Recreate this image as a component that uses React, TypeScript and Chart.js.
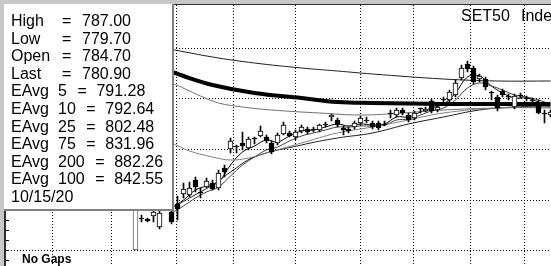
import React, { useEffect, useRef } from "react";
import { Chart, registerables } from "chart.js";
Chart.register(...registerables);

// ---- bar index (trading-day position) ----
const barIdx = [
  22, 23, 24, 25, 26, 28, 29, 30, 31, 32,
  33, 34, 35, 36, 37, 38, 39, 40, 41, 42,
  43, 44, 45, 46, 47, 48, 49, 50, 51, 52,
  53, 54, 55, 56, 57, 58, 59, 60, 61, 62,
  63, 64, 65, 66, 67, 68, 69, 70, 71, 72,
  73, 74, 75, 76, 77, 78, 79, 80, 81, 82,
  83, 84, 85, 86, 87, 88, 89, 90, 91, 92,
];
const opens = [
  700, 731.7, 730.7, 733.7, 722.8, 737.6, 745.5, 755.4, 754.5, 769.3,
  757.9, 762.4, 766.3, 761.4, 781.2, 800, 802.5, 805.9, 801, 810.9,
  812.9, 811.9, 805.9, 805.9, 814.8, 815.8, 811.9, 817.8, 819.8, 819.8,
  818.8, 824.7, 831.7, 828.7, 820.8, 819.8, 821.8, 825.7, 828.7, 825.7,
  825.7, 824.7, 835.6, 833.65, 838.6, 833.65, 830.7, 840.6, 837.6, 847.5,
  838.6, 849.5, 848.5, 853.45, 870.3, 884.1, 880.2, 869.3, 869.3, 856.4,
  851.5, 857.4, 852.5, 841.6, 853.45, 850.5, 848.5, 846.5, 835.6, 833.65,
];
const highs = [
  741.6, 734.7, 731.7, 739.6, 738.6, 739.6, 753.5, 766.3, 767.3, 772.3,
  761.4, 771.3, 769.3, 779.2, 784.2, 810.9, 804, 816.8, 811.9, 811.4,
  822.8, 813.9, 807.9, 815.8, 826.7, 817.8, 818.8, 823.8, 821.8, 821.8,
  824.7, 826.7, 834.6, 830.7, 822.8, 821.8, 827.7, 832.7, 831.7, 827.7,
  827.7, 827.7, 838.6, 840.6, 840.6, 835.6, 837.6, 840.6, 841.6, 849.5,
  843.6, 851.5, 858.4, 868.3, 883.2, 887.1, 882.2, 874.2, 871.3, 857.4,
  853.45, 859.4, 854.4, 854.4, 855.4, 852.5, 850.5, 848.5, 838.6, 838.6,
];
const lows = [
  700, 727.7, 727.7, 727.7, 720.8, 725.7, 729.7, 751.5, 752.5, 757.4,
  751.5, 761.4, 759.4, 759.4, 772.3, 796, 796, 799, 799, 805,
  811.9, 805.9, 795, 804, 813.9, 811.9, 809, 815.8, 814.8, 816.8,
  816.8, 821.8, 827.7, 821.8, 813.9, 815.8, 819.8, 823.75, 825.7, 819.8,
  818.8, 822.8, 830.7, 831.7, 833.65, 826.7, 828.7, 835.6, 836.6, 835.6,
  836.6, 843.55, 846.5, 851.5, 868.3, 876.2, 864.35, 866.3, 858.4, 848.5,
  837.6, 851.5, 848.5, 839.6, 850.5, 847.5, 846.5, 834.6, 825.7, 831.7,
];
const closes = [
  741.6, 730.7, 728.7, 737.6, 736.6, 727.7, 740.6, 760.4, 761.4, 762.4,
  756.9, 768.3, 760.4, 776.2, 777.2, 807.9, 801.5, 803, 809.9, 809.9,
  817.8, 807.9, 797, 813.9, 823.75, 812.9, 816.8, 821.8, 816.8, 818.8,
  823.75, 823.7, 833.65, 823.75, 818.8, 818.3, 825.7, 830.7, 827.7, 821.8,
  820.8, 823.7, 834.6, 838.6, 835.6, 828.7, 835.6, 839.6, 839.6, 837.6,
  841.6, 848.5, 856.4, 865.3, 880.2, 879.2, 866.3, 872.3, 861.4, 855.4,
  840.6, 853.45, 851.5, 852.5, 852.45, 849.5, 847.5, 835.6, 834.6, 836.6,
];

// ---- moving averages ----
const ema200X = [26, 35, 42, 50, 56, 62, 74, 83, 92];
const ema200Y = [901, 891.1, 885.1, 880.2, 877.2, 874.2, 869.3, 867.8, 867.3];
const ema100X = [26, 30, 35, 42, 50, 56, 62, 74, 83, 92];
const ema100Y = [881.2, 872.3, 863.35, 855.4, 850.5, 846.5, 845.5, 844.5, 845, 845];
const ema75X = [26, 28, 33, 36, 40, 45, 53, 60, 67, 74, 83, 92];
const ema75Y = [868.3, 865.3, 852.5, 845.5, 841.6, 838.6, 835.6, 833.65, 835.6, 838.6, 840.6, 841.6];
const ema25X = [26, 28, 31, 35, 38, 41, 44, 50, 56, 62, 68, 74, 83, 92];
const ema25Y = [808.9, 805.9, 798, 792.1, 789.1, 791.1, 796, 805.9, 815.8, 821.8, 828.7, 835.6, 840.6, 840.6];
const emaLowX = [29, 31, 35, 38, 42, 50, 56, 62, 68, 74, 80, 86, 92];
const emaLowY = [744.5, 751.5, 764.35, 777.2, 792.1, 803.95, 810.9, 815.8, 824.7, 831.7, 838.6, 841.6, 842.6];
const ema5X = [28, 30, 32, 34, 36, 38, 40, 42, 44, 46, 48, 50, 52, 54, 56, 58, 60, 62, 64, 66, 68, 70, 72, 74, 76, 78, 80, 82, 84, 86, 88, 90, 92];
const ema5Y = [741.6, 749.5, 759.4, 763.4, 767.3, 784.2, 797, 803, 808.9, 806.9, 812.9, 817.8, 818.8, 821.8, 824.7, 822.8, 824.7, 823.75, 824.7, 831.7, 831.7, 836.6, 840.6, 844.5, 855.4, 871.3, 872.3, 862.4, 855.4, 850.5, 850.5, 846.5, 840.6];
const ema10X = [28, 30, 32, 34, 36, 38, 40, 42, 44, 46, 48, 50, 52, 54, 56, 58, 60, 62, 64, 66, 68, 70, 72, 74, 76, 78, 80, 82, 84, 86, 88, 90, 92];
const ema10Y = [736.6, 743.6, 751.5, 757.4, 762.4, 773.3, 784.2, 792.1, 799, 802, 807.9, 812.9, 815.8, 818.8, 821.8, 821.8, 822.8, 822.8, 823.75, 828.7, 829.7, 833.65, 837.6, 840.6, 848.5, 860.4, 865.3, 862.4, 858.4, 853.45, 851.5, 848.5, 844.5];

// ---- grid positions ----
const gridX = [3, 13, 23, 35, 42, 56, 64, 74, 83];
const gridY = [700, 750, 800, 850, 900];
const minorTickStep = 10;

// ---- legend text ----
const legendLabels = ["High", "Low", "Open", "Last", "EAvg", "EAvg", "EAvg", "EAvg", "EAvg", "EAvg"];
const legendPeriods = ["", "", "", "", "5", "10", "25", "75", "200", "100"];
const legendValues = ["787.00", "779.70", "784.70", "780.90", "791.28", "792.64", "802.48", "831.96", "882.26", "842.55"];
const legendDate = "10/15/20";
const titleWords = ["SET50", "Index"];
const footerText = "No Gaps";

const Y_MIN = 684.16;
const Y_MAX = 942.57;
const X_MIN = 0;
const X_MAX = 92.2;

const pts = (xs: number[], ys: number[]) => xs.map((x, k) => ({ x, y: ys[k] }));

const decor = {
  id: "decor",
  beforeDraw(chart: any) {
    const ctx = chart.ctx;
    ctx.save();
    ctx.fillStyle = "#ffffff";
    ctx.fillRect(0, 0, chart.width, chart.height);
    ctx.restore();
  },
  beforeDatasetsDraw(chart: any) {
    // shift marks half a pixel so 1px wicks and 5px bodies land on whole pixels
    chart.ctx.save();
    chart.ctx.translate(0.5, 0);
  },
  afterDatasetsDraw(chart: any) {
    chart.ctx.restore();
  },
  afterDraw(chart: any) {
    const ctx = chart.ctx;
    const ys = chart.scales.y;
    ctx.save();
    ctx.strokeStyle = "#000";
    ctx.lineWidth = 1;
    for (let v = 690; v <= 940; v += minorTickStep) {
      const py = Math.round(ys.getPixelForValue(v)) + 0.5;
      ctx.beginPath();
      ctx.moveTo(6, py);
      ctx.lineTo(9, py);
      ctx.stroke();
    }
    ctx.fillStyle = "#303030";
    ctx.fillRect(4, 4, chart.width - 4, 1);
    ctx.fillRect(4, 4, 2, chart.height - 4);

    ctx.fillStyle = "#ffffff";
    ctx.fillRect(4, 4, 168, 205);
    ctx.fillStyle = "#808080";
    ctx.fillRect(172, 4, 2, 207);
    ctx.fillRect(4, 209, 170, 2);

    ctx.fillStyle = "#c8c8c8";
    ctx.fillRect(0, 0, chart.width, 4);
    ctx.fillRect(0, 0, 4, chart.height);

    ctx.fillStyle = "#000";
    ctx.textBaseline = "alphabetic";
    ctx.font = '16px "Liberation Sans", Arial, sans-serif';
    for (let r = 0; r < legendLabels.length; r++) {
      const by = 26 + r * 17.6;
      ctx.fillText(legendLabels[r], 11, by);
      if (legendPeriods[r] === "") {
        ctx.fillText("=", 62, by);
        ctx.fillText(legendValues[r], 82, by);
      } else {
        ctx.fillText(legendPeriods[r], 58, by);
        const w = ctx.measureText(legendPeriods[r]).width;
        const eqX = 58 + w + 10.5;
        ctx.fillText("=", eqX, by);
        ctx.fillText(legendValues[r], eqX + 19, by);
      }
    }
    ctx.fillText(legendDate, 11, 26 + 10 * 17.6);

    ctx.fillText(titleWords[0], 461, 21);
    ctx.fillText(titleWords[1], 521, 21);

    ctx.font = 'bold 12px "Liberation Sans", Arial, sans-serif';
    ctx.fillText(footerText, 22, 263);
    ctx.restore();
  },
};

export default function App() {
  const ref = useRef<HTMLCanvasElement>(null);
  useEffect(() => {
    const canvas = ref.current!;
    const lineDs = (label: string, xs: number[], ys: number[], color: string, width: number) => ({
      type: "line" as const,
      label,
      data: pts(xs, ys),
      borderColor: color,
      borderWidth: width,
      pointRadius: 0,
      tension: 0.4,
      fill: false,
      order: 10,
    });
    const chart = new Chart(canvas, {
      type: "bar",
      data: {
        datasets: [
          {
            type: "bar",
            label: "wicks",
            data: barIdx.map((x, k) => ({ x, y: [lows[k], highs[k]] })) as any,
            backgroundColor: "#000",
            borderWidth: 0,
            barThickness: 1,
            grouped: false,
            order: 3,
          },
          {
            type: "bar",
            label: "bodies",
            data: barIdx.map((x, k) => ({ x, y: [opens[k], closes[k]] })) as any,
            backgroundColor: barIdx.map((_, k) => (closes[k] > opens[k] + 0.6 ? "#ffffff" : "#000000")),
            borderColor: barIdx.map((_, k) => (k === 0 ? "#606060" : "#000000")),
            borderWidth: 1,
            borderSkipped: false,
            barThickness: 5,
            grouped: false,
            order: 2,
          },
          lineDs("EAvg 200", ema200X, ema200Y, "#202020", 1),
          lineDs("EAvg 100", ema100X, ema100Y, "#000000", 4),
          lineDs("EAvg 75", ema75X, ema75Y, "#707070", 1),
          lineDs("EAvg 25", ema25X, ema25Y, "#808080", 1),
          lineDs("EAvg low", emaLowX, emaLowY, "#202020", 1),
          lineDs("EAvg 10", ema10X, ema10Y, "#404040", 1),
          lineDs("EAvg 5", ema5X, ema5Y, "#000000", 1),
        ] as any,
      },
      options: {
        responsive: false,
        animation: false,
        devicePixelRatio: 1,
        layout: { padding: { left: 5, top: 5, right: 0, bottom: 0 } },
        plugins: { legend: { display: false }, tooltip: { enabled: false }, title: { display: false } },
        scales: {
          x: {
            type: "linear",
            min: X_MIN,
            max: X_MAX,
            offset: false,
            alignToPixels: true,
            grid: { color: "#000", lineWidth: 1, drawTicks: false },
            border: { display: false, dash: [1, 2] },
            ticks: { display: false },
            afterBuildTicks: (s: any) => {
              s.ticks = gridX.map((v) => ({ value: v }));
            },
          },
          y: {
            type: "linear",
            min: Y_MIN,
            max: Y_MAX,
            alignToPixels: true,
            grid: { color: "#000", lineWidth: 1, drawTicks: false },
            border: { display: false, dash: [1, 2] },
            ticks: { display: false },
            afterBuildTicks: (s: any) => {
              s.ticks = gridY.map((v) => ({ value: v }));
            },
          },
        },
      } as any,
      plugins: [decor],
    });
    return () => chart.destroy();
  }, []);
  return (
    <div style={{ position: "absolute", left: 0, top: 0, width: 551, height: 266 }}>
      <canvas ref={ref} width={551} height={266} style={{ display: "block" }} />
    </div>
  );
}
